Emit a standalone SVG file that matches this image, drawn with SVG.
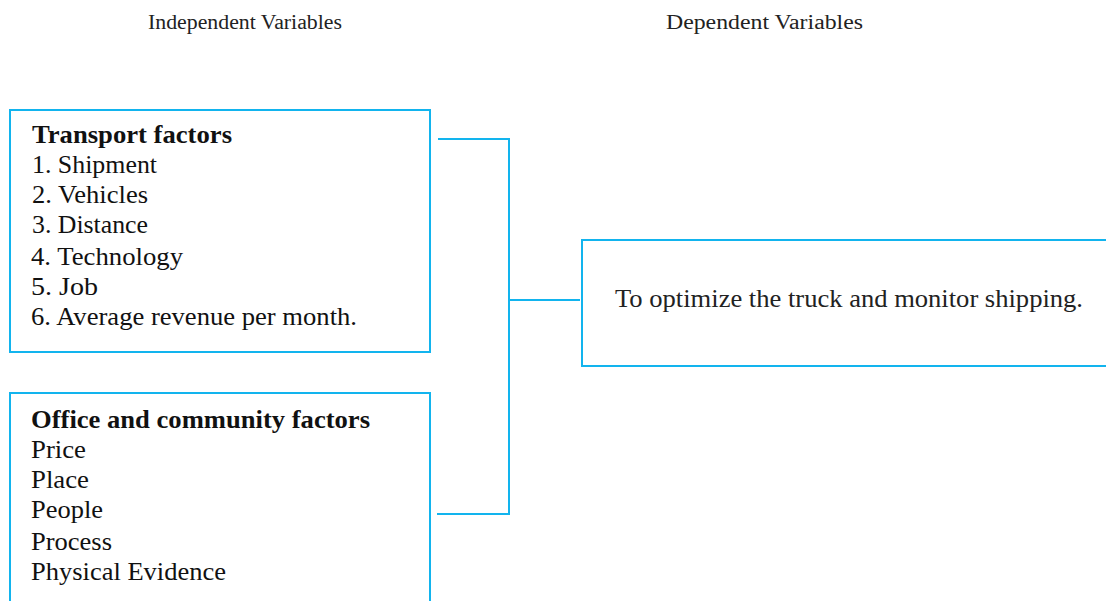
<svg xmlns="http://www.w3.org/2000/svg" width="1106" height="601" viewBox="0 0 1106 601">
<style>
.box{fill:#fff;stroke:#12B4EE;stroke-width:2}
.con{fill:none;stroke:#12B4EE;stroke-width:2}
text{font-family:"Liberation Serif","Times New Roman",serif;fill:#111}
.hd{font-size:20px;fill:#222}
.t{font-size:25px}
.b{font-weight:bold}
</style>
<rect width="1106" height="601" fill="#fff"/>
<text class="hd" x="148" y="29" textLength="194" lengthAdjust="spacingAndGlyphs">Independent Variables</text>
<text class="hd" x="666" y="29" textLength="197" lengthAdjust="spacingAndGlyphs">Dependent Variables</text>
<g id="connectors">
<polyline class="con" points="438,139 509,139 509,514 437,514"/>
<line class="con" x1="509" y1="300" x2="580" y2="300"/>
</g>
<g id="transport">
<rect class="box" x="10" y="110" width="420" height="242"/>
<text class="t b" x="32" y="143" textLength="200" lengthAdjust="spacingAndGlyphs">Transport factors</text>
<text class="t" x="32" y="173" textLength="125" lengthAdjust="spacingAndGlyphs">1. Shipment</text>
<text class="t" x="32" y="203" textLength="116" lengthAdjust="spacingAndGlyphs">2. Vehicles</text>
<text class="t" x="32" y="233" textLength="116" lengthAdjust="spacingAndGlyphs">3. Distance</text>
<text class="t" x="31" y="265" textLength="152" lengthAdjust="spacingAndGlyphs">4. Technology</text>
<text class="t" x="31" y="295" textLength="67" lengthAdjust="spacingAndGlyphs">5. Job</text>
<text class="t" x="31" y="325" textLength="326" lengthAdjust="spacingAndGlyphs">6. Average revenue per month.</text>
</g>
<g id="office">
<rect class="box" x="10" y="393" width="420" height="220"/>
<text class="t b" x="31" y="428" textLength="339" lengthAdjust="spacingAndGlyphs">Office and community factors</text>
<text class="t" x="31" y="458" textLength="55" lengthAdjust="spacingAndGlyphs">Price</text>
<text class="t" x="31" y="488" textLength="58" lengthAdjust="spacingAndGlyphs">Place</text>
<text class="t" x="31" y="518" textLength="72" lengthAdjust="spacingAndGlyphs">People</text>
<text class="t" x="31" y="550" textLength="81" lengthAdjust="spacingAndGlyphs">Process</text>
<text class="t" x="31" y="580" textLength="195" lengthAdjust="spacingAndGlyphs">Physical Evidence</text>
</g>
<g id="dependent">
<rect class="box" x="582" y="240" width="530" height="126"/>
<text class="t" x="615" y="307" textLength="468" lengthAdjust="spacingAndGlyphs" style="fill:#222">To optimize the truck and monitor shipping.</text>
</g>
</svg>
